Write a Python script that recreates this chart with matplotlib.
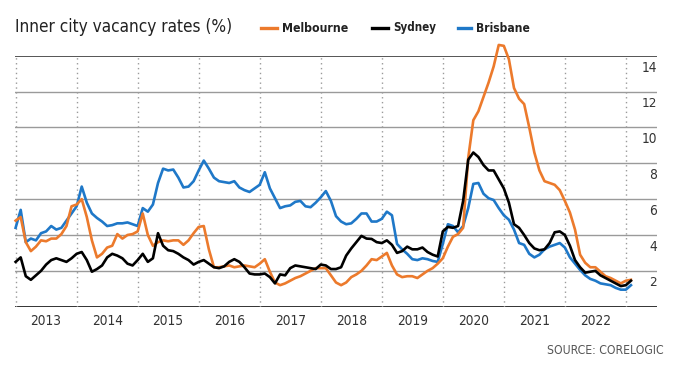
import matplotlib
matplotlib.use("Agg")
import matplotlib.pyplot as plt
import matplotlib.transforms as mtransforms
import numpy as np

start_year = 2013
melbourne = [4.8, 5.0, 3.6, 3.1, 3.35, 3.7, 3.65, 3.8, 3.8, 4.05, 4.5, 5.6, 5.7, 6.0, 5.0, 3.7,
             2.75, 2.95, 3.3, 3.4, 4.05, 3.8, 4.0, 4.05, 4.2, 5.2, 4.0, 3.4, 3.6, 3.7, 3.65, 3.7,
             3.7, 3.45, 3.7, 4.1, 4.45, 4.5, 3.2, 2.2, 2.2, 2.25, 2.3, 2.2, 2.25, 2.3, 2.25, 2.2,
             2.4, 2.65, 1.95, 1.35, 1.2, 1.3, 1.45, 1.6, 1.7, 1.85, 2.0, 2.15, 2.15, 2.15, 1.75, 1.35,
             1.2, 1.35, 1.65, 1.8, 2.0, 2.3, 2.65, 2.6, 2.8, 3.0, 2.3, 1.8, 1.65, 1.7, 1.7, 1.6,
             1.8, 2.0, 2.15, 2.4, 2.7, 3.35, 3.9, 4.05, 4.4, 8.3, 10.4, 10.9, 11.7, 12.5, 13.4, 14.6,
             14.55, 13.8, 12.2, 11.6, 11.3, 10.0, 8.6, 7.6, 7.0, 6.9, 6.8, 6.5, 5.9, 5.25, 4.3, 2.9,
             2.45, 2.2, 2.2, 1.95, 1.7, 1.6, 1.45, 1.3, 1.45, 1.5]
sydney = [2.5, 2.75, 1.7, 1.5, 1.75, 2.0, 2.35, 2.6, 2.7, 2.6, 2.5, 2.7, 2.95, 3.05, 2.6, 1.95,
          2.1, 2.3, 2.75, 2.95, 2.85, 2.7, 2.4, 2.3, 2.6, 2.95, 2.5, 2.7, 4.1, 3.4, 3.15, 3.1,
          2.95, 2.75, 2.6, 2.35, 2.5, 2.6, 2.4, 2.2, 2.15, 2.25, 2.5, 2.65, 2.5, 2.2, 1.85, 1.8,
          1.8, 1.85, 1.65, 1.3, 1.8, 1.75, 2.15, 2.3, 2.25, 2.2, 2.15, 2.1, 2.35, 2.3, 2.1, 2.1,
          2.2, 2.85, 3.25, 3.6, 3.95, 3.8, 3.78, 3.6, 3.55, 3.7, 3.45, 3.0, 3.1, 3.35, 3.2, 3.2,
          3.3, 3.05, 2.9, 2.8, 4.2, 4.45, 4.4, 4.5, 5.9, 8.2, 8.6, 8.35, 7.9, 7.6, 7.6, 7.1,
          6.6, 5.8, 4.6, 4.4, 4.0, 3.55, 3.25, 3.15, 3.2, 3.55, 4.15, 4.2, 4.0, 3.4, 2.6, 2.2,
          1.9, 1.95, 2.0, 1.75, 1.6, 1.45, 1.3, 1.15, 1.2, 1.45]
brisbane = [4.4, 5.4, 3.6, 3.8, 3.7, 4.1, 4.2, 4.5, 4.3, 4.4, 4.8, 5.2, 5.6, 6.7, 5.8, 5.2,
            4.95, 4.75, 4.5, 4.55, 4.65, 4.65, 4.7, 4.6, 4.5, 5.5, 5.3, 5.7, 6.9, 7.7, 7.6, 7.65,
            7.2, 6.65, 6.7, 7.0, 7.6, 8.15, 7.7, 7.2, 7.0, 6.95, 6.9, 7.0, 6.65, 6.5, 6.4, 6.6,
            6.8, 7.5, 6.6, 6.05, 5.5, 5.6, 5.65, 5.85, 5.9, 5.6, 5.55, 5.8, 6.1, 6.45, 5.9, 5.05,
            4.75, 4.6, 4.65, 4.9, 5.2, 5.2, 4.75, 4.75, 4.9, 5.3, 5.1, 3.5, 3.2, 2.95, 2.65, 2.6,
            2.7, 2.65, 2.55, 2.5, 3.5, 4.6, 4.5, 4.15, 4.5, 5.5, 6.85, 6.9, 6.3, 6.05, 5.95, 5.5,
            5.1, 4.85, 4.3, 3.55, 3.45, 2.95, 2.75, 2.9, 3.2, 3.35, 3.45, 3.55, 3.3, 2.75, 2.4, 2.05,
            1.75, 1.55, 1.45, 1.3, 1.25, 1.2, 1.05, 0.95, 0.95, 1.2]
year_labels = ["2013", "2014", "2015", "2016", "2017", "2018", "2019", "2020", "2021", "2022"]
y_ticks = [2, 4, 6, 8, 10, 12, 14]
series_names = ["Melbourne", "Sydney", "Brisbane"]
colors = ["#EC7A2C", "#000000", "#1F78C8"]

FONT = ["Liberation Sans Narrow", "DejaVu Sans"]
plt.rcParams["font.family"] = FONT
plt.rcParams["font.stretch"] = "condensed"

W, H = 680, 368
fig = plt.figure(figsize=(W / 100, H / 100), dpi=100)
renderer = fig.canvas.get_renderer()


def fit_width(txt, target_px, max_size):
    """Shrink a text's font size until its rendered width matches target."""
    txt.set_fontsize(max_size)
    w = txt.get_window_extent(renderer).width
    if w > target_px:
        txt.set_fontsize(max_size * target_px / w)


L, R, T, B = 15, 657, 55.7, 306.7
ax = fig.add_axes([L / W, 1 - B / H, (R - L) / W, (B - T) / H])

t = start_year + np.arange(len(melbourne)) / 12
ax.set_xlim(2012.99, 2023.51)
ax.set_ylim(0, 14)

for v in y_ticks[:-1]:
    ax.axhline(v, color="#9a9a9a", lw=1.0, zorder=1)
ax.axhline(14, color="#555555", lw=1.4, zorder=1)
ax.axhline(0, color="#333333", lw=1.4, zorder=1)
for yr in range(2013, 2024):
    ax.axvline(yr, color="#9a9a9a", lw=1.0, ls=(0, (1, 2.5)), zorder=1)

ax.plot(t, sydney, color=colors[1], lw=1.9, zorder=3, clip_on=False)
ax.plot(t, brisbane, color=colors[2], lw=1.9, zorder=2, clip_on=False)
ax.plot(t, melbourne, color=colors[0], lw=1.9, zorder=2.5, clip_on=False)

for s in ax.spines.values():
    s.set_visible(False)
ax.set_xticks([])
ax.set_yticks([])
ax.patch.set_alpha(0)

off = mtransforms.ScaledTranslation(0, -5 / 100, fig.dpi_scale_trans)
for v in y_ticks:
    tx = ax.text(1.0, v, str(v), transform=ax.get_yaxis_transform() + off,
                 ha="right", va="top", fontsize=10.5, color="#333333")
    fit_width(tx, 7.8 * len(str(v)), 10.5)

for i, lab in enumerate(year_labels):
    tx = ax.text(2013 + i + 0.5, -0.4, lab, ha="center", va="top", fontsize=11,
                 color="#333333", transform=ax.transData)
    fit_width(tx, 31, 11)

title = fig.text(15 / W, 1 - 27 / H, "Inner city vacancy rates (%)", ha="left", va="center",
                 color="#222222")
fit_width(title, 217, 14.5)

leg_dash = [(261, 277), (372, 388), (458, 471)]
leg_text_x = [282, 393, 476]
leg_w = [67, 43, 54]
for (d0, d1), tx0, name, c, lw_ in zip(leg_dash, leg_text_x, series_names, colors, leg_w):
    fig.add_artist(plt.Line2D([d0 / W, d1 / W], [1 - 28 / H, 1 - 28 / H],
                              color=c, lw=2.4, transform=fig.transFigure))
    tx = fig.text(tx0 / W, 1 - 28 / H, name, ha="left", va="center",
                  color="#222222", fontweight="bold")
    fit_width(tx, lw_, 11.5)

src = fig.text(664 / W, 1 - 350 / H, "SOURCE: CORELOGIC", ha="right", va="center",
               color="#555555")
fit_width(src, 116, 9.5)

fig.savefig("out.png", dpi=100)
